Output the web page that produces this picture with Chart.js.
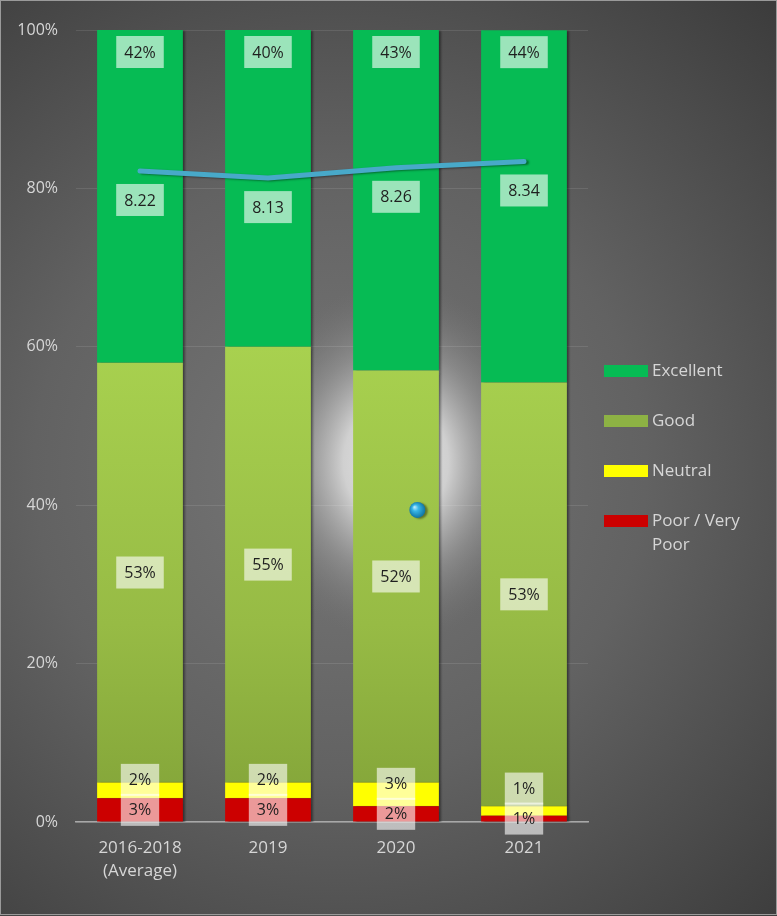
<!DOCTYPE html>
<html>
<head>
<meta charset="utf-8">
<script src="https://cdn.jsdelivr.net/npm/chart.js@4.4.1/dist/chart.umd.min.js"></script>
<style>
  html, body { margin: 0; padding: 0; background: #3c3c3c; }
  #wrap { width: 777px; height: 916px; position: relative; }
</style>
</head>
<body>
<div id="wrap"><canvas id="myChart"></canvas></div>
<script>
// survey results per period, shares in percent
var categories = [['2016-2018', '(Average)'], '2019', '2020', '2021'];
var excellent = [42, 40, 43, 44.49];
var good = [53, 55, 52, 53.49];
var neutral = [2, 2, 3, 1.2];
var poor = [3, 3, 2, 0.8];
// average score out of 10
var scores = [8.22, 8.13, 8.26, 8.34];
// stray marker sitting on the 2020 bar
var markerPoint = [{ x: 2.25, y: 39.4 }];
var yTicks = [0, 20, 40, 60, 80, 100];

var FONT = "'Open Sans', 'DejaVu Sans', sans-serif";

function goodFill(c) {
	var chart = c.chart;
	var area = chart.chartArea;
	if (!area) {
		return '#9cc548';
	}
	var g = chart.ctx.createLinearGradient(0, area.top, 0, area.bottom);
	g.addColorStop(0, '#aed856');
	g.addColorStop(0.4, '#a8d14f');
	g.addColorStop(0.75, '#97bb45');
	g.addColorStop(1, '#82a338');
	return g;
}

function markerFill(c) {
	var chart = c.chart;
	var xs = chart.scales.xPt, ys = chart.scales.yPt;
	if (!xs || !ys || !c.raw) {
		return '#2aa6d8';
	}
	var px = xs.getPixelForValue(c.raw.x);
	var py = ys.getPixelForValue(c.raw.y);
	if (!isFinite(px) || !isFinite(py)) {
		return '#2aa6d8';
	}
	var g = chart.ctx.createRadialGradient(px - 3, py - 3, 0, px, py, 9);
	g.addColorStop(0, '#c8f2ff');
	g.addColorStop(0.35, '#38b6e6');
	g.addColorStop(1, '#0a6a98');
	return g;
}

var backgroundPlugin = {
	id: 'backgroundPlugin',
	beforeDraw: function (chart) {
		var ctx = chart.ctx;
		var w = chart.width, h = chart.height;
		ctx.save();
		var bg = ctx.createRadialGradient(340, 470, 0, 340, 470, 680);
		bg.addColorStop(0, '#777777');
		bg.addColorStop(0.45, '#626262');
		bg.addColorStop(1, '#373737');
		ctx.fillStyle = bg;
		ctx.fillRect(0, 0, w, h);
		// soft light spot behind the 2020 bar, a bit taller than wide
		ctx.translate(396, 462);
		ctx.scale(1, 1.2);
		var glow = ctx.createRadialGradient(0, 0, 0, 0, 0, 150);
		glow.addColorStop(0, 'rgba(236,236,236,1)');
		glow.addColorStop(0.35, 'rgba(218,218,218,0.9)');
		glow.addColorStop(0.65, 'rgba(170,170,170,0.45)');
		glow.addColorStop(1, 'rgba(120,120,120,0)');
		ctx.fillStyle = glow;
		ctx.fillRect(-200, -200, 400, 400);
		ctx.setTransform(1, 0, 0, 1, 0, 0);
		ctx.strokeStyle = '#9a9a9a';
		ctx.lineWidth = 1;
		ctx.strokeRect(0.5, 0.5, w - 1, h - 2);
		ctx.restore();
	}
};

function drawBox(ctx, text, cx, cy) {
	var tw = ctx.measureText(text).width;
	var bw = tw + 16, bh = 32;
	ctx.fillStyle = 'rgba(255,255,255,0.6)';
	ctx.fillRect(cx - bw / 2, cy - bh / 2, bw, bh);
	ctx.fillStyle = '#1f1f1f';
	ctx.fillText(text, cx, cy + 1);
}

var labelPlugin = {
	id: 'labelPlugin',
	beforeDatasetsDraw: function (chart) {
		var ctx = chart.ctx;
		ctx.save();
		ctx.shadowColor = 'rgba(0,0,0,0.4)';
		ctx.shadowOffsetX = 2.5;
		ctx.shadowOffsetY = 1;
		ctx.shadowBlur = 2;
	},
	afterDatasetsDraw: function (chart) {
		var ctx = chart.ctx;
		ctx.restore();
		ctx.save();
		ctx.font = '16px ' + FONT;
		ctx.textAlign = 'center';
		ctx.textBaseline = 'middle';
		var BOX_H = 30;
		var metas = {};
		chart.data.datasets.forEach(function (ds, i) {
			metas[ds.key] = chart.getDatasetMeta(i);
		});
		for (var j = 0; j < categories.length; j++) {
			var pEl = metas.poor.data[j];
			var nEl = metas.neutral.data[j];
			var gEl = metas.good.data[j];
			var eEl = metas.excellent.data[j];
			var poorY = (pEl.y + pEl.base) / 2;
			var neutralY = Math.min((nEl.y + nEl.base) / 2, poorY - BOX_H);
			drawBox(ctx, Math.round(excellent[j]) + '%', eEl.x, eEl.y + 22);
			drawBox(ctx, Math.round(good[j]) + '%', gEl.x, (gEl.y + gEl.base) / 2);
			drawBox(ctx, Math.round(neutral[j]) + '%', nEl.x, neutralY);
			drawBox(ctx, Math.round(poor[j]) + '%', pEl.x, poorY);
			var sp = metas.score.data[j];
			drawBox(ctx, scores[j].toFixed(2), sp.x, sp.y + 29);
		}
		ctx.restore();
	}
};

var legendPlugin = {
	id: 'legendPlugin',
	afterDraw: function (chart) {
		var ctx = chart.ctx;
		var items = chart.data.datasets.filter(function (ds) { return ds.inLegend; });
		items.reverse();
		var x0 = chart.chartArea.right + 16;
		var y0 = 371;
		ctx.save();
		ctx.font = '17px ' + FONT;
		ctx.textBaseline = 'middle';
		ctx.textAlign = 'left';
		items.forEach(function (ds, i) {
			var cy = y0 + i * 50;
			ctx.fillStyle = ds.legendColor;
			ctx.fillRect(x0, cy - 6, 44, 12);
			ctx.fillStyle = '#d6d6d6';
			// wrap long names onto a second line
			var words = ds.label.split(' ');
			var line = '', lines = [];
			words.forEach(function (wd) {
				var test = line ? line + ' ' + wd : wd;
				if (ctx.measureText(test).width > 100 && line) {
					lines.push(line);
					line = wd;
				} else {
					line = test;
				}
			});
			lines.push(line);
			lines.forEach(function (t, k) {
				ctx.fillText(t, x0 + 48, cy + k * 24);
			});
		});
		ctx.restore();
	}
};

var chart = document.getElementById('myChart').getContext('2d');
var myChart = new Chart(chart, {
	type: 'bar',
	data: {
		labels: categories,
		datasets: [
			{ key: 'score', type: 'line', label: 'Score', data: scores, yAxisID: 'yScore',
				borderColor: '#48a9c9', borderWidth: 5, pointRadius: 0, tension: 0,
				borderCapStyle: 'round', order: 0 },
			{ key: 'marker', type: 'scatter', label: 'marker', data: markerPoint,
				xAxisID: 'xPt', yAxisID: 'yPt', pointRadius: 8, pointBorderWidth: 0,
				pointBackgroundColor: markerFill, order: 0 },
			{ key: 'poor', label: 'Poor / Very Poor', data: poor, backgroundColor: '#cc0000',
				stack: 'share', yAxisID: 'y', inLegend: true, legendColor: '#cc0000', order: 1 },
			{ key: 'neutral', label: 'Neutral', data: neutral, backgroundColor: '#ffff00',
				stack: 'share', yAxisID: 'y', inLegend: true, legendColor: '#ffff00', order: 1 },
			{ key: 'good', label: 'Good', data: good, backgroundColor: goodFill,
				stack: 'share', yAxisID: 'y', inLegend: true, legendColor: '#8db244', order: 1 },
			{ key: 'excellent', label: 'Excellent', data: excellent, backgroundColor: '#06bb54',
				stack: 'share', yAxisID: 'y', inLegend: true, legendColor: '#06bb54', order: 1 }
		]
	},
	options: {
		responsive: true,
		maintainAspectRatio: false,
		animation: false,
		layout: { padding: { top: 30, right: 189, left: 0, bottom: 0 } },
		datasets: {
			bar: { grouped: false, barPercentage: 0.67, categoryPercentage: 1, borderWidth: 0 }
		},
		plugins: {
			legend: { display: false },
			tooltip: { enabled: false }
		},
		scales: {
			x: {
				stacked: true,
				grid: { display: false, drawTicks: false },
				border: { display: true, color: '#a8a8a8', width: 1.5 },
				ticks: { color: '#d6d6d6', padding: 15, font: { family: FONT, size: 17, lineHeight: 1.35 } },
				afterFit: function (scale) { scale.height = 94; }
			},
			y: {
				stacked: true,
				min: 0,
				max: 100,
				grid: { color: 'rgba(255,255,255,0.1)', drawTicks: false },
				border: { display: false },
				afterBuildTicks: function (scale) {
					scale.ticks = yTicks.map(function (v) { return { value: v }; });
				},
				ticks: {
					color: '#d6d6d6', padding: 18,
					font: { family: FONT, size: 16 },
					callback: function (v) { return v + '%'; }
				},
				afterFit: function (scale) { scale.width = 76; }
			},
			yScore: { display: false, min: 0, max: 10, stacked: false },
			xPt: { type: 'linear', display: false, min: -0.5, max: 3.5 },
			yPt: { display: false, min: 0, max: 100, stacked: false }
		}
	},
	plugins: [backgroundPlugin, labelPlugin, legendPlugin]
});
</script>
</body>
</html>
